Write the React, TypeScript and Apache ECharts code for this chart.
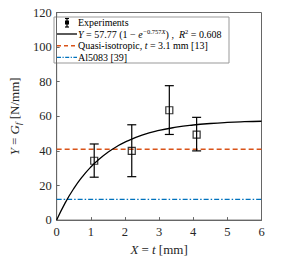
import React, { useEffect, useRef } from "react";
import * as echarts from "echarts";

// Experimental points (thickness X = t [mm], Y = G_f [N/mm])
const expX = [1.1, 2.2, 3.3, 4.1];
const expY = [34.3, 40.0, 63.5, 49.4];
const expLow = [24.8, 25.1, 49.5, 40.0];
const expHigh = [44.0, 55.1, 77.7, 59.4];

// Fitted curve
const fitX = [0, 0.25, 0.5, 0.75, 1, 1.25, 1.5, 1.75, 2, 2.5, 3, 3.5, 4, 4.5, 5, 5.5, 6];
const fitY = [0, 9.95, 18.2, 25.03, 30.67, 35.34, 39.21, 42.41, 45.06, 49.06, 51.81, 53.69, 54.97, 55.85, 56.46, 56.87, 57.15];

// Reference levels
const quasiLevel = 41;
const alLevel = 12;

const xTicks = [0, 1, 2, 3, 4, 5, 6];
const yTicks = [0, 20, 40, 60, 80, 100, 120];

const FONT = "'Liberation Serif', 'DejaVu Serif', serif";
const ORANGE = "#D95319";
const BLUE = "#0072BD";

export default function App() {
  const ref = useRef<HTMLDivElement>(null);
  useEffect(() => {
    if (!ref.current) return;
    const chart = echarts.init(ref.current, undefined, { renderer: "svg" });
    const x0 = xTicks[0];
    const x1 = xTicks[xTicks.length - 1];
    const rich = {
      i: { fontFamily: FONT, fontStyle: "italic" as const, fontSize: 13, color: "#262626" },
      n: { fontFamily: FONT, fontSize: 13, color: "#262626" },
      sub: { fontFamily: FONT, fontStyle: "italic" as const, fontSize: 9, color: "#262626", padding: [6, 0, 0, 0] },
    };
    const lrich = {
      t: { fontFamily: FONT, fontSize: 10, color: "#111" },
      i: { fontFamily: FONT, fontSize: 10, fontStyle: "italic" as const, color: "#111" },
      sup: { fontFamily: FONT, fontSize: 6.5, fontStyle: "italic" as const, color: "#111", padding: [0, 0, 6, 0] },
      sn: { fontFamily: FONT, fontSize: 6.5, color: "#111", padding: [0, 0, 6, 0] },
    };
    const legX = 57;
    const legX2 = 77;
    const tx = 78;
    const rows = [22.5, 34, 45.8, 57.3];
    chart.setOption({
      animation: false,
      textStyle: { fontFamily: FONT },
      grid: { left: 51, top: 12.5, right: 37.5, bottom: 38.5, show: true, borderColor: "#666", borderWidth: 1, backgroundColor: "#fff" },
      xAxis: {
        type: "value",
        min: x0,
        max: x1,
        interval: 1,
        name: "{i|X} {n|= }{i|t}{n| [mm]}",
        nameLocation: "middle",
        nameGap: 17,
        nameTextStyle: { rich, fontFamily: FONT },
        axisLine: { show: true, lineStyle: { color: "#666", width: 1 } },
        axisTick: { show: true, inside: true, length: 3, lineStyle: { color: "#666" } },
        axisLabel: { fontFamily: FONT, fontSize: 12.5, color: "#262626", margin: 5 },
        splitLine: { show: false },
      },
      yAxis: {
        type: "value",
        min: yTicks[0],
        max: yTicks[yTicks.length - 1],
        interval: 20,
        name: "{i|Y} {n|= }{i|G}{sub|f}{n| [N/mm]}",
        nameLocation: "middle",
        nameGap: 31,
        nameTextStyle: { rich, fontFamily: FONT },
        axisLine: { show: true, lineStyle: { color: "#666", width: 1 } },
        axisTick: { show: true, inside: true, length: 3, lineStyle: { color: "#666" } },
        axisLabel: { fontFamily: FONT, fontSize: 12.5, color: "#262626", margin: 5 },
        splitLine: { show: false },
      },
      series: [
        {
          type: "line",
          data: [[x0, quasiLevel], [x1, quasiLevel]],
          symbol: "none",
          lineStyle: { color: ORANGE, width: 1.5, type: [5, 3] },
          z: 2,
        },
        {
          type: "line",
          data: [[x0, alLevel], [x1, alLevel]],
          symbol: "none",
          lineStyle: { color: BLUE, width: 1.2, type: [5, 2, 1.5, 2] },
          z: 2,
        },
        {
          type: "line",
          data: fitX.map((x, i) => [x, fitY[i]]),
          smooth: true,
          symbol: "none",
          lineStyle: { color: "#000", width: 1.3 },
          z: 3,
        },
        {
          type: "custom",
          data: expX.map((x, i) => [x, expY[i], expLow[i], expHigh[i]]),
          renderItem: (params: any, api: any) => {
            const x = api.value(0);
            const lo = api.coord([x, api.value(2)]);
            const hi = api.coord([x, api.value(3)]);
            const w = 4.5;
            const st = { stroke: "#000", lineWidth: 1.2 };
            return {
              type: "group",
              children: [
                { type: "line", shape: { x1: lo[0], y1: lo[1], x2: hi[0], y2: hi[1] }, style: st },
                { type: "line", shape: { x1: lo[0] - w, y1: lo[1], x2: lo[0] + w, y2: lo[1] }, style: st },
                { type: "line", shape: { x1: hi[0] - w, y1: hi[1], x2: hi[0] + w, y2: hi[1] }, style: st },
              ],
            };
          },
          z: 4,
        },
        {
          type: "scatter",
          data: expX.map((x, i) => [x, expY[i]]),
          symbol: "rect",
          symbolSize: 7,
          itemStyle: { color: "rgba(255,255,255,0)", borderColor: "#000", borderWidth: 1.2 },
          z: 5,
        },
      ],
      graphic: [
        {
          type: "group",
          z: 100,
          children: [
            { type: "rect", shape: { x: 54, y: 17, width: 175, height: 46 }, style: { fill: "#fff", stroke: "#999", lineWidth: 1 } },
            // Experiments marker
            { type: "line", shape: { x1: 67, y1: 18.5, x2: 67, y2: 27 }, style: { stroke: "#000", lineWidth: 1.2 } },
            { type: "line", shape: { x1: 65, y1: 18.5, x2: 69, y2: 18.5 }, style: { stroke: "#000", lineWidth: 1.2 } },
            { type: "line", shape: { x1: 65, y1: 27, x2: 69, y2: 27 }, style: { stroke: "#000", lineWidth: 1.2 } },
            { type: "rect", shape: { x: 65, y: 20.5, width: 4, height: 4 }, style: { fill: "#000" } },
            { type: "text", x: tx, y: rows[0], style: { text: "{t|Experiments}", rich: lrich, verticalAlign: "middle" } },
            // fit
            { type: "line", shape: { x1: legX, y1: rows[1], x2: legX2, y2: rows[1] }, style: { stroke: "#000", lineWidth: 1.3 } },
            {
              type: "text",
              x: tx,
              y: rows[1],
              style: {
                text: "{i|Y}{t| = 57.77 (1 − }{i|e}{sup|−}{sn|0.757}{sup|X}{t|) ,  }{i|R}{sn|2}{t| = 0.608}",
                rich: lrich,
                verticalAlign: "middle",
              },
            },
            // quasi
            { type: "line", shape: { x1: legX, y1: rows[2], x2: legX2, y2: rows[2] }, style: { stroke: ORANGE, lineWidth: 1.5, lineDash: [4, 3] } },
            { type: "text", x: tx, y: rows[2], style: { text: "{t|Quasi-isotropic, }{i|t}{t| = 3.1 mm [13]}", rich: lrich, verticalAlign: "middle" } },
            // Al
            { type: "line", shape: { x1: legX, y1: rows[3], x2: legX2, y2: rows[3] }, style: { stroke: BLUE, lineWidth: 1.2, lineDash: [4, 1.5, 1.2, 1.5] } },
            { type: "text", x: tx, y: rows[3], style: { text: "{t|Al5083 [39]}", rich: lrich, verticalAlign: "middle" } },
          ],
        },
      ],
    });
    return () => chart.dispose();
  }, []);
  return <div ref={ref} style={{ position: "fixed", left: 0, top: 0, width: 299, height: 261, background: "#fff" }} />;
}
